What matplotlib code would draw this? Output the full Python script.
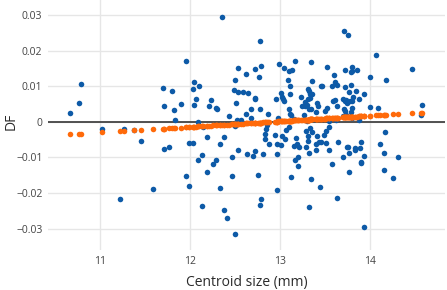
import numpy as np
import matplotlib
matplotlib.use("Agg")
import matplotlib.pyplot as plt
from matplotlib.ticker import FuncFormatter

# blue points: centroid size (mm) and DF score
centroid_size = [
    10.67, 10.76, 10.79, 11.02, 11.22, 11.27, 11.38, 11.45, 11.59, 11.70,
    11.71, 11.71, 11.77, 11.80, 11.82, 11.83, 11.90, 11.96, 11.96, 11.99,
    11.99, 12.03, 12.03, 12.04, 12.04, 12.07, 12.09, 12.09, 12.10, 12.13,
    12.14, 12.15, 12.19, 12.19, 12.21, 12.24, 12.26, 12.29, 12.29, 12.30,
    12.33, 12.34, 12.36, 12.38, 12.38, 12.41, 12.43, 12.47, 12.47, 12.49,
    12.50, 12.50, 12.50, 12.51, 12.52, 12.54, 12.54, 12.54, 12.57, 12.59,
    12.62, 12.62, 12.64, 12.65, 12.68, 12.68, 12.70, 12.72, 12.72, 12.73,
    12.73, 12.76, 12.77, 12.78, 12.78, 12.78, 12.79, 12.79, 12.81, 12.84,
    12.84, 12.85, 12.86, 12.87, 12.88, 12.95, 12.96, 12.97, 12.97, 12.97,
    12.98, 12.99, 13.01, 13.01, 13.03, 13.03, 13.04, 13.05, 13.05, 13.06,
    13.07, 13.09, 13.10, 13.10, 13.10, 13.11, 13.11, 13.11, 13.12, 13.13,
    13.14, 13.16, 13.16, 13.17, 13.17, 13.18, 13.19, 13.20, 13.20, 13.21,
    13.24, 13.25, 13.27, 13.28, 13.28, 13.29, 13.29, 13.30, 13.30, 13.31,
    13.32, 13.32, 13.32, 13.33, 13.33, 13.33, 13.33, 13.34, 13.34, 13.34,
    13.35, 13.35, 13.35, 13.36, 13.36, 13.36, 13.40, 13.40, 13.40, 13.41,
    13.41, 13.43, 13.44, 13.45, 13.46, 13.46, 13.47, 13.49, 13.50, 13.52,
    13.52, 13.53, 13.53, 13.55, 13.55, 13.55, 13.58, 13.58, 13.59, 13.60,
    13.62, 13.62, 13.63, 13.64, 13.64, 13.64, 13.65, 13.70, 13.70, 13.70,
    13.71, 13.71, 13.73, 13.73, 13.73, 13.73, 13.74, 13.74, 13.75, 13.75,
    13.76, 13.76, 13.77, 13.77, 13.77, 13.78, 13.79, 13.79, 13.79, 13.80,
    13.80, 13.80, 13.81, 13.81, 13.82, 13.84, 13.84, 13.85, 13.86, 13.88,
    13.88, 13.89, 13.90, 13.90, 13.91, 13.94, 13.94, 13.94, 14.00, 14.00,
    14.07, 14.09, 14.12, 14.16, 14.16, 14.17, 14.18, 14.26, 14.32, 14.47,
    14.57, 14.58,
]
df = [
    0.0025, 0.0052, 0.0106, -0.0021, -0.0216, -0.0020, -0.0024, -0.0055, -0.0190, 0.0096,
    0.0044, -0.0076, -0.0072, 0.0087, 0.0033, 0.0005, 0.0049, 0.0172, -0.0151, -0.0059,
    -0.0179, 0.0093, -0.0059, 0.0112, 0.0048, 0.0064, -0.0001, -0.0108, 0.0101, -0.0093,
    -0.0236, -0.0016, -0.0044, -0.0142, 0.0044, 0.0061, -0.0118, 0.0040, -0.0108, 0.0036,
    -0.0185, -0.0063, 0.0295, -0.0042, -0.0247, -0.0270, 0.0015, -0.0099, -0.0151, 0.0090,
    0.0117, -0.0011, -0.0316, 0.0053, 0.0005, 0.0152, 0.0083, -0.0079, 0.0005, 0.0083,
    0.0133, 0.0022, -0.0091, 0.0082, 0.0036, 0.0010, -0.0095, 0.0064, 0.0066, 0.0148,
    -0.0082, -0.0149, 0.0126, 0.0226, 0.0035, -0.0233, 0.0157, -0.0218, -0.0091, -0.0035,
    -0.0047, -0.0019, -0.0010, 0.0021, -0.0061, -0.0037, 0.0063, -0.0061, -0.0091, -0.0192,
    0.0011, 0.0162, 0.0081, -0.0066, 0.0071, -0.0039, 0.0063, 0.0150, 0.0058, -0.0049,
    -0.0023, 0.0118, 0.0143, 0.0037, -0.0014, 0.0100, 0.0079, 0.0021, -0.0156, 0.0018,
    0.0145, 0.0008, -0.0068, 0.0170, -0.0107, -0.0045, -0.0063, -0.0100, -0.0125, -0.0072,
    0.0071, 0.0043, 0.0018, 0.0056, 0.0043, -0.0026, -0.0072, 0.0048, 0.0001, -0.0039,
    0.0092, 0.0065, -0.0054, 0.0086, 0.0035, -0.0087, -0.0238, 0.0079, 0.0068, -0.0017,
    0.0168, 0.0035, -0.0161, 0.0115, 0.0079, -0.0030, 0.0027, -0.0062, -0.0078, 0.0052,
    -0.0041, 0.0043, -0.0056, -0.0182, 0.0101, -0.0056, 0.0101, -0.0037, 0.0029, -0.0026,
    -0.0059, 0.0154, 0.0040, -0.0014, -0.0080, 0.0003, 0.0100, -0.0118, 0.0059, 0.0132,
    0.0112, 0.0061, 0.0005, 0.0104, 0.0045, -0.0214, -0.0056, 0.0065, -0.0100, 0.0015,
    0.0254, 0.0036, 0.0146, 0.0058, 0.0031, 0.0097, 0.0061, 0.0018, -0.0072, 0.0054,
    0.0244, -0.0071, 0.0085, -0.0089, -0.0141, 0.0057, 0.0103, 0.0141, 0.0028, 0.0155,
    0.0059, 0.0012, 0.0143, 0.0040, 0.0070, -0.0080, -0.0074, 0.0086, 0.0145, 0.0065,
    0.0005, -0.0074, -0.0057, -0.0117, -0.0112, 0.0079, -0.0095, -0.0295, 0.0126, 0.0042,
    0.0187, 0.0039, -0.0061, -0.0087, -0.0135, -0.0029, 0.0117, -0.0157, -0.0098, 0.0147,
    0.0018, 0.0047,
]

x_ticks = [11, 12, 13, 14]
y_ticks = [-0.03, -0.02, -0.01, 0, 0.01, 0.02, 0.03]

blue = "#0d5aa7"
orange = "#ff6a0a"

x = np.array(centroid_size)
y = np.array(df)
# orange points: least squares line evaluated at every specimen
coef = np.polyfit(x, y, 1)
fitted = np.polyval(coef, x)

plt.rcParams["font.family"] = ["Open Sans", "DejaVu Sans"]

fig = plt.figure(figsize=(4.47, 2.90), dpi=100)
ax = fig.add_axes([48 / 447, 40 / 290, 397 / 447, 250 / 290])

ax.set_xlim(10.42, 14.84)
ax.set_ylim(-0.036, 0.0342)
ax.set_xticks(x_ticks)
ax.set_yticks(y_ticks)

def fmt(v, pos):
    if abs(v) < 1e-9:
        return "0"
    return ("%.2f" % v).replace("-", "\u2212")

ax.yaxis.set_major_formatter(FuncFormatter(fmt))
ax.grid(True, color="#e6e6e6", linewidth=1.0)
ax.set_axisbelow(True)
for s in ax.spines.values():
    s.set_visible(False)
ax.tick_params(length=0, labelsize=7.5, colors="#444444", pad=4)
ax.axhline(0, color="#444444", linewidth=1.3, zorder=1)

ax.scatter(x, y, s=16, color=blue, linewidths=0, zorder=2)
ax.scatter(x, fitted, s=16, color=orange, linewidths=0, zorder=3)

ax.set_xlabel("Centroid size (mm)", fontsize=10, color="#2a2a2a", labelpad=6)
fig.text(11 / 447, 1 - 121 / 290, "DF", rotation=90, fontsize=10,
         color="#2a2a2a", ha="center", va="center")

fig.savefig("out.png", dpi=100)
